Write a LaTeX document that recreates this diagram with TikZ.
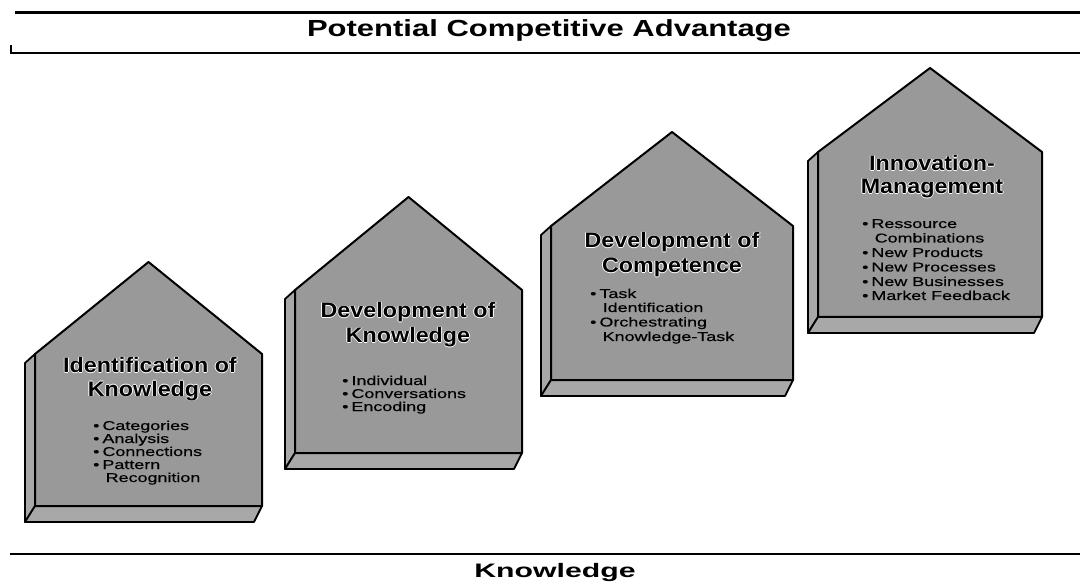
\documentclass[tikz,border=0pt]{standalone}
\usepackage{fontspec}
\setmainfont{Liberation Sans}
\newfontfamily\titlefont[FakeStretch=1.33]{Liberation Sans}
\newfontfamily\botfont[FakeStretch=1.55]{Liberation Sans}
\newfontfamily\headfont[FakeStretch=1.11]{Liberation Sans}
\newfontfamily\bulfont[FakeStretch=1.4,FakeBold=0.4]{Liberation Sans}
\definecolor{facegray}{gray}{0.60}
\definecolor{sidegray}{gray}{0.66}
\newcommand\halo[1]{\leavevmode\rlap{\color{white}\hspace{-0.9pt}#1}\rlap{\color{white}\hspace{0.9pt}#1}\rlap{\color{white}\raisebox{0.9pt}{#1}}\rlap{\color{white}\raisebox{-0.9pt}{#1}}#1}
\newcommand\bul{•\hspace{3pt}}
\tikzset{
  face/.style={fill=facegray, draw=black, line width=2pt, line join=round},
  sideface/.style={fill=sidegray, draw=black, line width=1.8pt, line join=round},
  headtxt/.style={font=\headfont\bfseries\fontsize{21}{21}\selectfont, anchor=base, inner sep=0pt},
  bultxt/.style={font=\bulfont\fontsize{12.8}{12.8}\selectfont, anchor=base west, inner sep=0pt, text height=9.6pt, text depth=2.4pt},
  bigtxt/.style={anchor=base, inner sep=0pt},
}
% L R E Px Py B
\newcommand\house[6]{%
  \draw[sideface] (#1,#3) -- (#1-10,#3+9) -- (#1-10,#6+16) -- (#1,#6) -- cycle;
  \draw[sideface] (#1,#6) -- (#2,#6) -- (#2-8,#6+16) -- (#1-10,#6+16) -- cycle;
  \draw[face] (#1,#3) -- (#4,#5) -- (#2,#3) -- (#2,#6) -- (#1,#6) -- cycle;
}
\begin{document}
\begin{tikzpicture}[x=1pt,y=-1pt]
\useasboundingbox (0,0) rectangle (1080,588);
% rules
\draw[line width=3pt] (15,13) -- (1080,13);
\draw[line width=2pt] (11,45) -- (11,53) -- (1080,53);
\draw[line width=2.5pt] (10,554) -- (1080,554);
\node[bigtxt] (title) at (549,37) {\titlefont\bfseries\fontsize{23.3}{24}\selectfont Potential Competitive Advantage};
\node[bigtxt] (knowledge) at (555,577) {\botfont\bfseries\fontsize{19.5}{20}\selectfont Knowledge};

% houses
\house{35}{262}{354}{148.5}{262}{506}
\house{295}{522}{290}{408.5}{197}{453}
\house{551}{793}{226}{672}{132}{380}
\house{818}{1042}{152}{930}{68}{317}

% house 1
\node[headtxt] (h1a) at (150,373) {\halo{Identification of}};
\node[headtxt] (h1b) at (150,396) {\halo{Knowledge}};
\node[bultxt] (h1c) at (93,430) {\bul Categories};
\node[bultxt] (h1d) at (93,443) {\bul Analysis};
\node[bultxt] (h1e) at (93,456) {\bul Connections};
\node[bultxt] (h1f) at (93,469) {\bul Pattern};
\node[bultxt] (h1g) at (105.5,482) {Recognition};

% house 2
\node[headtxt] (h2a) at (408,318) {\halo{Development of}};
\node[headtxt] (h2b) at (408,343) {\halo{Knowledge}};
\node[bultxt] (h2c) at (342,385) {\bul Individual};
\node[bultxt] (h2d) at (342,398) {\bul Conversations};
\node[bultxt] (h2e) at (342,411) {\bul Encoding};

% house 3
\node[headtxt] (h3a) at (672,248) {\halo{Development of}};
\node[headtxt] (h3b) at (672,273) {\halo{Competence}};
\node[bultxt] (h3c) at (590,298) {\bul Task};
\node[bultxt] (h3d) at (602.5,312) {Identification};
\node[bultxt] (h3e) at (590,326.5) {\bul Orchestrating};
\node[bultxt] (h3f) at (602.5,341) {Knowledge-Task};

% house 4
\node[headtxt] (h4a) at (932,171) {\halo{Innovation-}};
\node[headtxt] (h4b) at (932,194) {\halo{Management}};
\node[bultxt] (h4c) at (862,228) {\bul Ressource};
\node[bultxt] (h4d) at (874.5,242.5) {Combinations};
\node[bultxt] (h4e) at (862,257) {\bul New Products};
\node[bultxt] (h4f) at (862,271.5) {\bul New Processes};
\node[bultxt] (h4g) at (862,286) {\bul New Businesses};
\node[bultxt] (h4h) at (862,300) {\bul Market Feedback};
\end{tikzpicture}
\end{document}
